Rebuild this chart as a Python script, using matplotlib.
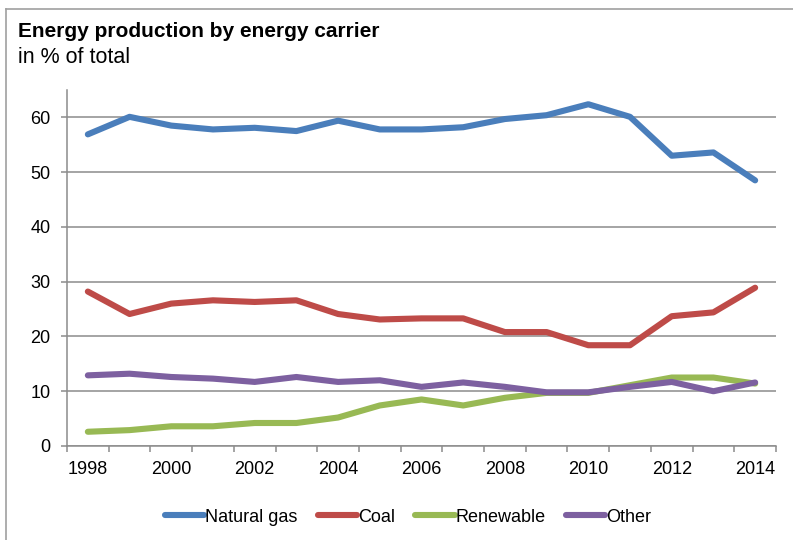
import matplotlib
matplotlib.use("Agg")
import matplotlib.pyplot as plt
from matplotlib.lines import Line2D
from matplotlib.ticker import FixedLocator, NullFormatter
import numpy as np

plt.rcParams['font.family'] = ['Liberation Sans', 'DejaVu Sans']

# share of total energy production, in %
years = list(range(1998, 2015))
natural_gas = [56.9, 60.1, 58.5, 57.8, 58.1, 57.5, 59.4, 57.8, 57.8, 58.2,
               59.7, 60.4, 62.4, 60.1, 53.0, 53.6, 48.5]
coal = [28.2, 24.1, 26.0, 26.6, 26.3, 26.6, 24.1, 23.1, 23.3, 23.3,
        20.8, 20.8, 18.4, 18.4, 23.7, 24.4, 28.9]
renewable = [2.6, 2.9, 3.6, 3.6, 4.2, 4.2, 5.2, 7.4, 8.5, 7.4,
             8.8, 9.7, 9.7, 11.1, 12.5, 12.5, 11.4]
other = [12.9, 13.2, 12.6, 12.3, 11.7, 12.6, 11.7, 12.0, 10.8, 11.6,
         10.8, 9.8, 9.8, 10.8, 11.7, 10.0, 11.6]

series = [("Natural gas", natural_gas, "#4a7ebb"),
          ("Coal", coal, "#be4b48"),
          ("Renewable", renewable, "#98b954"),
          ("Other", other, "#7d60a0")]

grey = "#8c8c8c"

fig = plt.figure(figsize=(7.93, 5.40), dpi=100)
ax = fig.add_axes([67 / 793, 1 - 446 / 540, (776 - 67) / 793, (446 - 90) / 540])

pos = np.arange(len(years))
for name, vals, col in series:
    ax.plot(pos, vals, color=col, lw=4.4, label=name,
            solid_capstyle="round", solid_joinstyle="round", zorder=3)

ax.set_xlim(-0.5, len(years) - 0.5)
ax.set_ylim(0, 65)
ax.set_yticks(range(0, 61, 10))
ax.yaxis.grid(True, color=grey, lw=1.1)
ax.set_axisbelow(True)

# year labels on every second category, tick marks between categories
ax.set_xticks(pos[::2])
ax.set_xticklabels([str(y) for y in years[::2]])
ax.xaxis.set_minor_locator(FixedLocator(np.arange(-0.5, len(years), 1)))
ax.xaxis.set_minor_formatter(NullFormatter())
ax.tick_params(axis="x", which="major", length=0, pad=11, labelsize=13)
ax.tick_params(axis="x", which="minor", length=4, width=1.1, color=grey)
ax.tick_params(axis="y", length=4, width=1.1, color=grey, pad=8, labelsize=13)

for side in ("top", "right"):
    ax.spines[side].set_visible(False)
for side in ("left", "bottom"):
    ax.spines[side].set_color(grey)
    ax.spines[side].set_linewidth(1.1)

leg = ax.legend(loc="center", bbox_to_anchor=(408 / 793, 1 - 517 / 540),
                bbox_transform=fig.transFigure, ncol=4, frameon=False,
                fontsize=13, handlelength=2.2, handletextpad=0.05,
                columnspacing=1.1)
for h in leg.legend_handles:
    h.set_solid_capstyle("round")

fig.text(18 / 793, 1 - 37 / 540, "Energy production by energy carrier",
         fontsize=15, fontweight="bold", va="baseline")
fig.text(18 / 793, 1 - 63 / 540, "in % of total", fontsize=15.5, va="baseline")

# outer frame: top and left edges
fig.add_artist(Line2D([6 / 793, 1], [1 - 9 / 540] * 2, transform=fig.transFigure,
                      color="#a0a0a0", lw=1.2))
fig.add_artist(Line2D([6 / 793] * 2, [0, 1 - 9 / 540], transform=fig.transFigure,
                      color="#a0a0a0", lw=1.2))

fig.savefig("out.png", dpi=100)
